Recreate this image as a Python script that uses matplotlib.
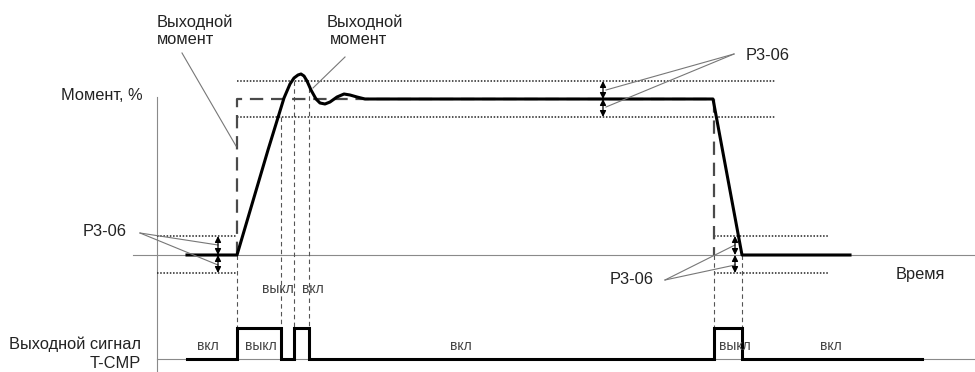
import matplotlib.pyplot as plt

plt.rcParams['font.family'] = ['Liberation Sans', 'DejaVu Sans']

# torque curve (pixel-like coordinates of the diagram, y grows downward)
torque_x = [187, 237, 268, 284, 290, 294, 298, 301, 304, 307, 311, 316, 320, 325, 330,
            337, 344, 350, 357, 365, 375, 713, 742, 850]
torque_y = [255, 255, 150, 98, 84, 78, 75, 74, 76, 81, 90, 99, 103, 104, 102,
            97, 94, 95, 97, 99, 99, 99, 255, 255]

# reference (dashed) torque step
ref_x = [237, 237, 714, 714]
ref_y = [255, 99, 99, 255]

# T-CMP output signal
sig_x = [187, 237, 237, 281, 281, 294, 294, 309, 309, 714, 714, 742, 742, 922]
sig_y = [359, 359, 328, 328, 359, 359, 328, 328, 359, 359, 328, 328, 359, 359]

# dotted tolerance bands: (x0, x1, y)
bands = [(237, 775, 81), (237, 775, 117), (157, 237, 236), (157, 237, 273),
         (714, 828, 236), (714, 828, 273)]

# thin dashed verticals: (x, y0, y1)
guides = [(237, 255, 328), (281, 117, 359), (294, 81, 359), (309, 88, 328),
          (714, 255, 328), (742, 255, 328)]

# double arrows: (x, y_top, y_mid, y_bot)
arrows = [(218, 236, 255, 273), (603, 81, 99, 117), (735, 236, 255, 273)]

fig = plt.figure(figsize=(9.75, 3.72), dpi=100)
ax = fig.add_axes([0, 0, 1, 1])
ax.set_xlim(0, 975)
ax.set_ylim(372, 0)
ax.axis('off')

# axes
ax.plot([157, 157], [97, 372], color='#8a8a8a', lw=0.8)
ax.plot([133, 975], [255, 255], color='#8a8a8a', lw=0.8)
ax.plot([157, 975], [359, 359], color='#8a8a8a', lw=0.8)

for x0, x1, y in bands:
    ax.plot([x0, x1], [y, y], color='#222222', lw=1.1, ls=(0, (1, 1.1)))

for x, y0, y1 in guides:
    ax.plot([x, x], [y0, y1], color='#555555', lw=0.8, ls=(0, (4, 3)))

ax.plot(ref_x, ref_y, color='#4a4a4a', lw=1.6, ls=(0, (6, 3.5)))
ax.plot(torque_x, torque_y, color='black', lw=2.2, solid_joinstyle='round')
ax.plot(sig_x, sig_y, color='black', lw=2.2, solid_joinstyle='miter')

for x, yt, ym, yb in arrows:
    for a, b in [(yt, ym), (ym, yb)]:
        ax.annotate('', xy=(x, a), xytext=(x, b),
                    arrowprops=dict(arrowstyle='<|-|>', mutation_scale=9,
                                    lw=0.9, color='black', shrinkA=0, shrinkB=0))

# leader lines
leaders = [((140, 233), (218, 245)), ((140, 233), (218, 265)),
           ((734, 54), (606, 90)), ((734, 54), (606, 107)),
           ((665, 280), (735, 245)), ((665, 280), (735, 265)),
           ((182, 53), (236, 146)), ((345, 57), (313, 88))]
for (xa, ya), (xb, yb) in leaders:
    ax.plot([xa, xb], [ya, yb], color='#777777', lw=0.8)

tc = '#222222'
fs = 11.8
ax.text(157, 22, 'Выходной', fontsize=fs, color=tc, va='center')
ax.text(157, 40, 'момент', fontsize=fs, color=tc, va='center')
ax.text(327, 22, 'Выходной', fontsize=fs, color=tc, va='center')
ax.text(330, 40, 'момент', fontsize=fs, color=tc, va='center')
ax.text(143, 95, 'Момент, %', fontsize=fs, color=tc, va='center', ha='right')
ax.text(105, 232, 'P3-06', fontsize=fs, color=tc, va='center', ha='center')
ax.text(768, 55, 'P3-06', fontsize=fs, color=tc, va='center', ha='center')
ax.text(632, 280, 'P3-06', fontsize=fs, color=tc, va='center', ha='center')
ax.text(920, 274, 'Время', fontsize=fs, color=tc, va='center', ha='center')
ax.text(141, 344, 'Выходной сигнал', fontsize=fs, color=tc, va='center', ha='right')
ax.text(141, 363, 'T-CMP', fontsize=fs, color=tc, va='center', ha='right')

sc = '#444444'
ss = 10
state_x = [208, 261, 278, 313, 461, 735, 831]
state_y = [346, 346, 289, 289, 346, 346, 346]
state_t = ['вкл', 'выкл', 'выкл', 'вкл', 'вкл', 'выкл', 'вкл']
for x, y, t in zip(state_x, state_y, state_t):
    ax.text(x, y, t, fontsize=ss, color=sc, va='center', ha='center')

fig.savefig('out.png', dpi=100)
